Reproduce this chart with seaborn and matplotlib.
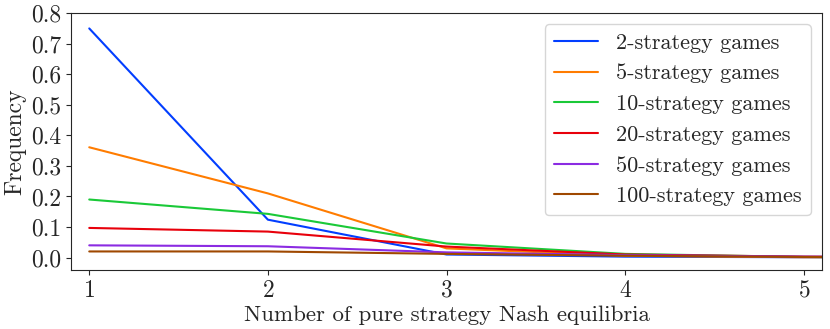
import numpy as np
import pandas as pd
import matplotlib
matplotlib.use("Agg")
import matplotlib.pyplot as plt
import seaborn as sns

num_equilibria = [1, 2, 3, 4, 5, 6]
freq_2 = [0.750, 0.124, 0.010, 0.003, 0.001, 0.000]
freq_5 = [0.361, 0.210, 0.030, 0.006, 0.001, 0.000]
freq_10 = [0.190, 0.143, 0.046, 0.012, 0.002, 0.000]
freq_20 = [0.097, 0.085, 0.036, 0.010, 0.003, 0.001]
freq_50 = [0.040, 0.037, 0.017, 0.008, 0.003, 0.001]
freq_100 = [0.020, 0.020, 0.012, 0.006, 0.002, 0.001]
series_labels = ["2-strategy games", "5-strategy games", "10-strategy games",
                 "20-strategy games", "50-strategy games", "100-strategy games"]
series_values = [freq_2, freq_5, freq_10, freq_20, freq_50, freq_100]

rows = []
for lab, vals in zip(series_labels, series_values):
    for x, v in zip(num_equilibria, vals):
        rows.append({"n": x, "freq": v, "series": lab})
df = pd.DataFrame(rows)

sns.set_style("ticks")
plt.rcParams["font.family"] = "serif"
plt.rcParams["font.serif"] = ["cmr10", "DejaVu Serif"]
plt.rcParams["mathtext.fontset"] = "cm"
plt.rcParams["axes.formatter.use_mathtext"] = True

fig, ax = plt.subplots(figsize=(8.3, 3.29), dpi=100)
sns.lineplot(data=df, x="n", y="freq", hue="series", hue_order=series_labels,
             palette="bright", ax=ax, linewidth=1.5)
ax.set_xlim(0.9, 5.1)
ax.set_ylim(-0.04, 0.8)
ax.set_xticks([1, 2, 3, 4, 5])
ax.set_yticks(np.arange(0, 0.81, 0.1))
ax.set_yticklabels([f"{v:.1f}" for v in np.arange(0, 0.81, 0.1)])
ax.tick_params(labelsize=17)
ax.set_xlabel("Number of pure strategy Nash equilibria", fontsize=16.5, labelpad=3)
ax.set_ylabel("Frequency", fontsize=17)
leg = ax.legend(loc="upper right", fontsize=16, title=None)
for s in ax.spines.values():
    s.set_visible(True)
fig.subplots_adjust(left=0.086, right=0.99, top=0.96, bottom=0.18)
fig.savefig("out.png", dpi=100)
